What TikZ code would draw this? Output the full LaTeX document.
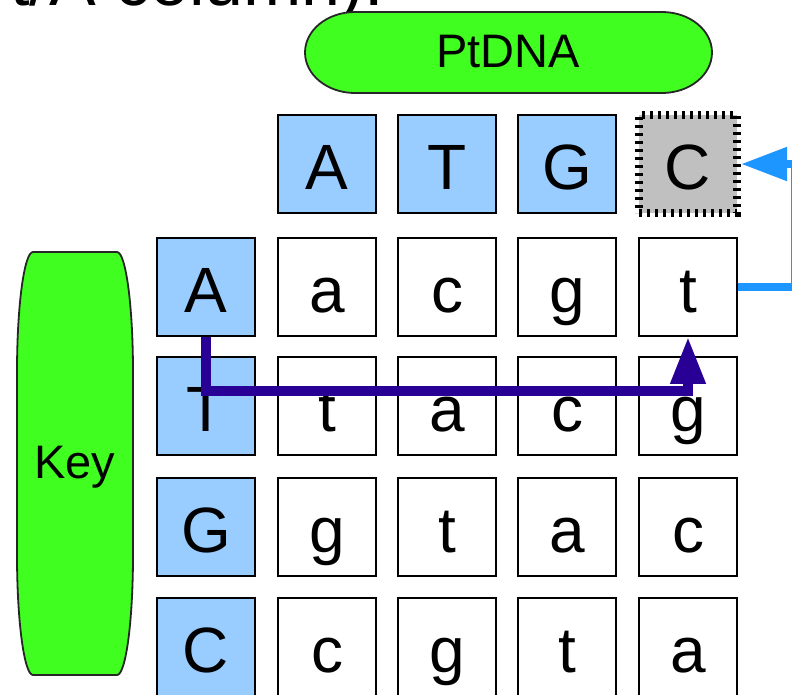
\documentclass[tikz,border=0pt]{standalone}
\usepackage{fontspec}
\setmainfont{Liberation Sans}
\usetikzlibrary{arrows.meta}
\definecolor{labelgreen}{RGB}{64,255,32}
\definecolor{baseblue}{RGB}{153,204,255}
\definecolor{markgrey}{RGB}{192,192,192}
\definecolor{linkblue}{RGB}{30,150,255}
\definecolor{pathpurple}{RGB}{40,0,150}
\begin{document}
\begin{tikzpicture}[x=1pt,y=-1pt,
  cell/.style={draw=black, line width=1.6pt, minimum width=98pt, minimum height=98pt,
    inner sep=0pt, text height=52pt, text depth=2pt, font=\fontsize{64}{64}\selectfont},
  basecell/.style={cell, fill=baseblue},
  paircell/.style={cell, fill=white},
  markedcell/.style={cell, fill=markgrey, line width=8pt, dash pattern=on 3pt off 5pt},
  labeltext/.style={inner sep=0pt, text height=33pt, text depth=3pt, font=\fontsize{47}{47}\selectfont},
  bubble/.style={fill=labelgreen, draw=black!85, line width=1.8pt},
  walk/.style={draw=pathpurple, line width=10pt, line join=miter, -{Triangle[length=47pt,width=33pt]}},
  link/.style={draw=linkblue, line width=8pt, line join=miter, -{Triangle[length=46pt,width=32pt]}}]
\useasboundingbox (0,0) rectangle (792,694);
\clip (0,0) rectangle (792,694);

% caption line running above the figure
\node[anchor=base west, inner sep=0pt, font=\fontsize{70}{70}\selectfont] (caption) at (10,5) {t/A column).};

% green labels
\draw[bubble] (355,12) -- (662,12) .. controls (689.6,12) and (712,30.1) .. (712,52.5)
  .. controls (712,74.9) and (689.6,93) .. (662,93) -- (355,93)
  .. controls (327.4,93) and (305,74.9) .. (305,52.5)
  .. controls (305,30.1) and (327.4,12) .. (355,12) -- cycle;
\node[labeltext] (ptdna) at (508,52.5) {PtDNA};

\draw[bubble] (33,252) -- (117,252) .. controls (125.8,252) and (133,305.8) .. (133,372)
  -- (133,555) .. controls (133,621.2) and (125.8,675) .. (117,675) -- (33,675)
  .. controls (24.2,675) and (17,621.2) .. (17,555) -- (17,372)
  .. controls (17,305.8) and (24.2,252) .. (33,252) -- cycle;
\node[labeltext] (key) at (75,463) {Key};

% header row
\node[basecell] (hA) at (327,164) {A};
\node[basecell] (hT) at (447,164) {T};
\node[basecell] (hG) at (567,164) {G};
\node[markedcell] (hC) at (688,164) {C};

% key column
\node[basecell] (kA) at (206,287) {A};
\node[basecell] (kT) at (206,406) {T};
\node[basecell] (kG) at (206,527) {G};
\node[basecell] (kC) at (206,647) {C};

% pairing table
\node[paircell] (p11) at (327,287) {a};
\node[paircell] (p12) at (447,287) {c};
\node[paircell] (p13) at (567,287) {g};
\node[paircell] (p14) at (688,287) {t};

\node[paircell] (p21) at (327,406) {t};
\node[paircell] (p22) at (447,406) {a};
\node[paircell] (p23) at (567,406) {c};
\node[paircell] (p24) at (688,406) {g};

\node[paircell] (p31) at (327,527) {g};
\node[paircell] (p32) at (447,527) {t};
\node[paircell] (p33) at (567,527) {a};
\node[paircell] (p34) at (688,527) {c};

\node[paircell] (p41) at (327,647) {c};
\node[paircell] (p42) at (447,647) {g};
\node[paircell] (p43) at (567,647) {t};
\node[paircell] (p44) at (688,647) {a};

% lookup path and link back to the header
\draw[walk] (kA.south) -- ++(0,54) -| (p14.south);
\draw[link] (p14.east) -- ++(57,0) |- (hC.east);
\end{tikzpicture}
\end{document}
